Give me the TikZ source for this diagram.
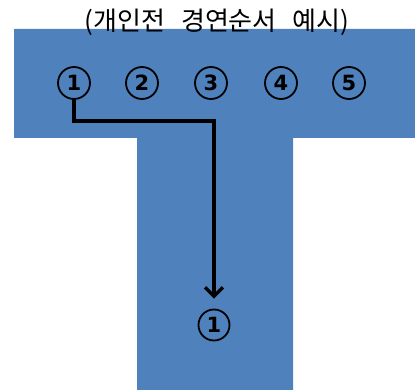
\documentclass[tikz,border=0pt]{standalone}
\usepackage{fontspec}
\newfontfamily\kr{Noto Sans CJK KR}
\newfontfamily\numfont{DejaVu Sans}
\usetikzlibrary{arrows.meta}
\definecolor{tblue}{HTML}{4F81BD}
\tikzset{
  num/.style={circle, draw=black, line width=1.8pt, inner sep=0pt, minimum size=32pt,
    font=\numfont\fontsize{21}{21}\selectfont\bfseries, text=black},
  conn/.style={line width=3.3pt, -{Straight Barb[length=9pt,width=18pt,line width=3.3pt]}}
}
\begin{document}
\begin{tikzpicture}[x=1pt,y=-1pt]
\useasboundingbox (0,0) rectangle (415,390);
\fill[tblue] (14,29) -- (415,29) -- (415,138) -- (293,138) -- (293,390) -- (137,390) -- (137,138) -- (14,138) -- cycle;
\node[font=\kr\fontsize{26}{26}\selectfont, inner sep=0pt] (title) at (217,22) {(개인전\hspace{16pt}경연순서\hspace{16pt}예시)};
\node[num] (n1) at (74,83) {1};
\node[num] (n2) at (142,83) {2};
\node[num] (n3) at (211,83) {3};
\node[num] (n4) at (281,83) {4};
\node[num] (n5) at (349,83) {5};
\node[num, minimum size=31pt] (m1) at (214,325) {1};
\coordinate (bend) at (214,121);
\draw[conn, shorten >=10pt, line join=miter] (n1.south) |- (bend) -- (m1.north);
\end{tikzpicture}
\end{document}
